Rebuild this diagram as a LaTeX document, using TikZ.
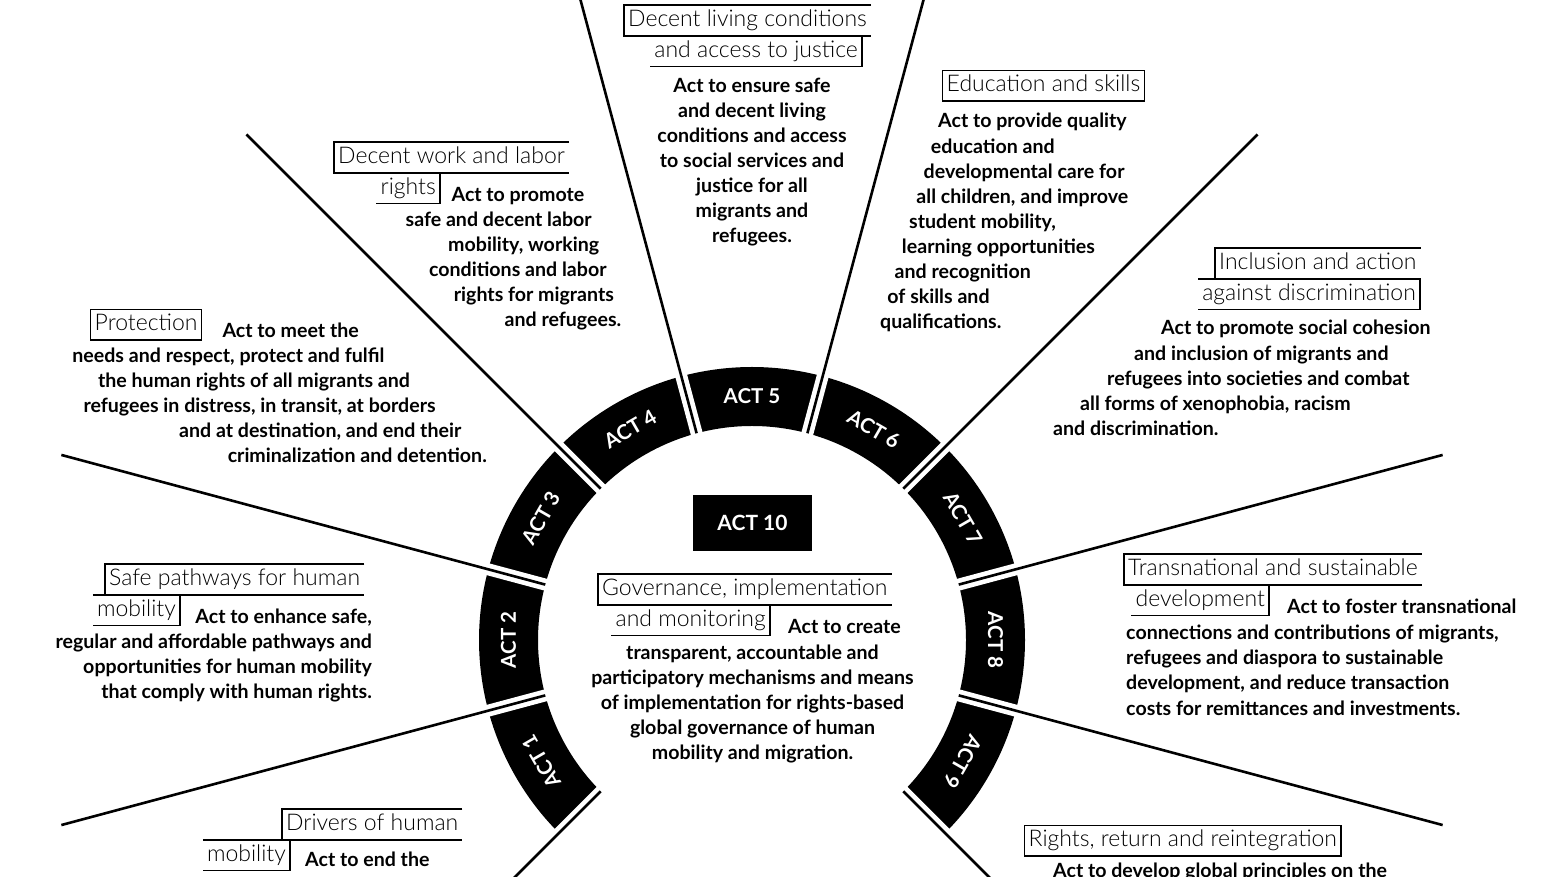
\documentclass[tikz,border=0pt]{standalone}
\usepackage{fontspec}
\setmainfont{Lato}
\IfFontExistsTF{Lato Light}{\newfontfamily\thinfont{Lato Light}}{\newfontfamily\thinfont{Lato}}
\usetikzlibrary{calc}

\tikzset{
  seg/.style={fill=black},
  gap/.style={white, line width=12pt},
  ray/.style={line width=2.6pt},
  actlbl/.style={text=white, font=\fontsize{20.5}{24}\selectfont\bfseries},
  ttl/.style={font=\thinfont\fontsize{23}{26}\selectfont, inner xsep=4pt, inner ysep=0pt, text height=16.5pt, text depth=5pt, minimum height=30.5pt},
  frame/.style={line width=1.4pt},
  body/.style={font=\fontsize{19.6}{25}\selectfont\bfseries, inner sep=0pt},
}

% frame of a two-line title: left side on line one, right side on line two
\newcommand{\ttlframe}[2]{%
  \draw[frame] (#1.north east) -- (#1.north west) -- (#1.south west) -- (#1.south east);
  \draw[frame] (#2.north west) -- (#2.north east) -- (#2.south east) -- (#2.south west);
}

\begin{document}
\begin{tikzpicture}[x=1pt, y=1pt]
  \useasboundingbox (0,0) rectangle (1560,877);
  \clip (0,0) rectangle (1560,877);
  \coordinate (c) at (752,237);

  % ring of acts
  \foreach \k in {1,...,9} {
    \pgfmathsetmacro{\a}{90+30*(5-\k)}
    \fill[seg] ($(c)+(\a-15:214)$) arc[start angle=\a-15, end angle=\a+15, radius=214]
      -- ($(c)+(\a+15:273)$) arc[start angle=\a+15, end angle=\a-15, radius=273] -- cycle;
    \node[actlbl, rotate=\a-90] (act\k) at ($(c)+(\a:243.5)$) {ACT \k};
  }
  \foreach \b in {225,195,...,-45} {
    \draw[gap] ($(c)+(\b:205)$) -- ($(c)+(\b:282)$);
    \draw[ray] ($(c)+(\b:214)$) -- ($(c)+(\b:715)$);
  }
  \node[fill=black, text=white, minimum width=119pt, minimum height=56pt,
    font=\fontsize{21}{24}\selectfont\bfseries] (act10) at (752.5,354) {ACT 10};

  % titles
  \node[ttl, anchor=north west] (t5a) at (624,872) {Decent living conditions};
  \node[ttl, anchor=north east] (t5b) at (862,0 |- t5a.south) {and access to justice};
  \ttlframe{t5a}{t5b}
  \node[ttl, anchor=north west] (t4a) at (334,735) {Decent work and labor};
  \node[ttl, anchor=north east] (t4b) at (440,0 |- t4a.south) {rights};
  \ttlframe{t4a}{t4b}
  \node[ttl, draw, frame, anchor=north west] (t6) at (942,807) {Education and skills};
  \node[ttl, draw, frame, anchor=north west] (t3) at (90,568) {Protection};
  \node[ttl, anchor=north west] (t7a) at (1215,629) {Inclusion and action};
  \node[ttl, anchor=north east] (t7b) at (1420,0 |- t7a.south) {against discrimination};
  \ttlframe{t7a}{t7b}
  \node[ttl, anchor=north west] (t2a) at (105,313) {Safe pathways for human};
  \node[ttl, anchor=north east] (t2b) at (180,0 |- t2a.south) {mobility};
  \ttlframe{t2a}{t2b}
  \node[ttl, anchor=north west] (t8a) at (1124,323) {Transnational and sustainable};
  \node[ttl, anchor=north east] (t8b) at (1269,0 |- t8a.south) {development};
  \ttlframe{t8a}{t8b}
  \node[ttl, anchor=north west] (t10a) at (598,303) {Governance, implementation};
  \node[ttl, anchor=north east] (t10b) at (770,0 |- t10a.south) {and monitoring};
  \ttlframe{t10a}{t10b}
  \node[ttl, anchor=north west] (t1a) at (282,68) {Drivers of human};
  \node[ttl, anchor=north east] (t1b) at (290,0 |- t1a.south) {mobility};
  \ttlframe{t1a}{t1b}
  \node[ttl, draw, frame, anchor=north west] (t9) at (1024,52) {Rights, return and reintegration};

  % texts
  \foreach \l [count=\i from 0] in {Act to ensure safe, and decent living,
      conditions and access, to social services and, justice for all,
      migrants and, refugees.}
    \node[body, anchor=base] (d5-\i) at (752,784-25*\i) {\l};
  \foreach \l [count=\i from 0] in {Act to promote, safe and decent labor,
      {mobility, working}, conditions and labor, rights for migrants, and refugees.}
    \node[body, anchor=base east] (d4-\i) at (584.5+7.4*\i,675-25*\i) {\l};
  \foreach \l [count=\i from 0] in {Act to meet the, {needs and respect, protect and fulfil},
      the human rights of all migrants and, {refugees in distress, in transit, at borders},
      {and at destination, and end their}, criminalization and detention.}
    \node[body, anchor=base east] (d3-\i) at (359+25.6*\i,539-25*\i) {\l};
  \foreach \l [count=\i from 0] in {Act to provide quality, education and,
      developmental care for, {all children, and improve}, {student mobility,},
      learning opportunities, and recognition, of skills and, qualifications.}
    \node[body, anchor=base west] (d6-\i) at (938-7.25*\i,749-25.1*\i) {\l};
  \foreach \l [count=\i from 0] in {Act to promote social cohesion, and inclusion of migrants and,
      refugees into societies and combat, {all forms of xenophobia, racism}, and discrimination.}
    \node[body, anchor=base west] (d7-\i) at (1161-27*\i,542-25.2*\i) {\l};
  \foreach \l [count=\i from 0] in {{Act to enhance safe,}, regular and affordable pathways and,
      opportunities for human mobility, that comply with human rights.}
    \node[body, anchor=base east] (d2-\i) at (372,253-25*\i) {\l};
  \node[body, anchor=base west] (d8-0) at (1287,263) {Act to foster transnational};
  \foreach \l [count=\i from 1] in {{connections and contributions of migrants,},
      refugees and diaspora to sustainable, {development, and reduce transaction},
      costs for remittances and investments.}
    \node[body, anchor=base west] (d8-\i) at (1126,263-25.3*\i) {\l};
  \node[body, anchor=base west] (d10-0) at (788,243) {Act to create};
  \foreach \l [count=\i from 1] in {{transparent, accountable and},
      participatory mechanisms and means, of implementation for rights-based,
      global governance of human, mobility and migration.}
    \node[body, anchor=base] (d10-\i) at (752.5,243-25.2*\i) {\l};
  \node[body, anchor=base west] (d1-0) at (305,10) {Act to end the};
  \node[body, anchor=base west] (d9-0) at (1053,-1) {Act to develop global principles on the};
\end{tikzpicture}
\end{document}
